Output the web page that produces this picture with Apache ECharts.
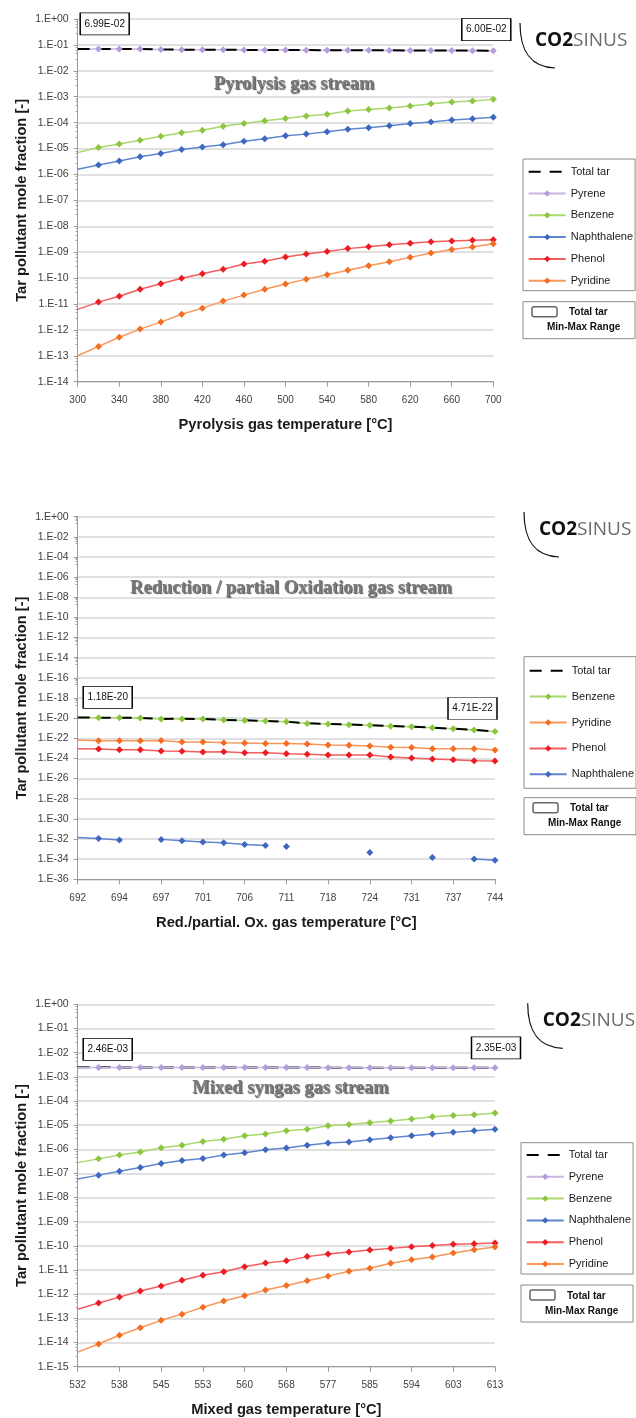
<!DOCTYPE html>
<html>
<head>
<meta charset="utf-8">
<script src="https://cdn.jsdelivr.net/npm/echarts@6/dist/echarts.min.js"></script>
<style>
    html, body { margin: 0; padding: 0; background: #fff; }
    #chart { width: 636px; height: 1418px; }
</style>
</head>
<body>
<div id="chart"></div>
<script>
// ---- Pyrolysis gas stream ----
var pyroTemp = ['300', '320', '340', '360', '380', '400', '420', '440', '460', '480', '500',
    '520', '540', '560', '580', '600', '620', '640', '660', '680', '700'];
var pyroTotal = [6.99e-2, 6.98e-2, 6.97e-2, 6.95e-2, 6.62e-2, 6.56e-2, 6.52e-2, 6.47e-2, 6.42e-2, 6.38e-2, 6.34e-2,
    6.30e-2, 6.27e-2, 6.23e-2, 6.20e-2, 6.17e-2, 6.13e-2, 6.10e-2, 6.07e-2, 6.03e-2, 6.00e-2];
var pyroPyrene = [6.98e-2, 6.97e-2, 6.96e-2, 6.94e-2, 6.60e-2, 6.54e-2, 6.50e-2, 6.45e-2, 6.40e-2, 6.35e-2, 6.31e-2,
    6.27e-2, 6.24e-2, 6.20e-2, 6.16e-2, 6.13e-2, 6.09e-2, 6.06e-2, 6.02e-2, 5.98e-2, 5.95e-2];
var pyroBenzene = [7.0e-6, 1.1e-5, 1.5e-5, 2.1e-5, 3.0e-5, 4.1e-5, 5.1e-5, 7.3e-5, 9.3e-5, 1.17e-4, 1.45e-4,
    1.8e-4, 2.1e-4, 2.8e-4, 3.2e-4, 3.7e-4, 4.4e-4, 5.3e-4, 6.3e-4, 6.8e-4, 7.9e-4];
var pyroNaphthalene = [1.6e-6, 2.3e-6, 3.3e-6, 4.8e-6, 6.4e-6, 9.2e-6, 1.15e-5, 1.4e-5, 1.9e-5, 2.4e-5, 3.1e-5,
    3.6e-5, 4.4e-5, 5.5e-5, 6.3e-5, 7.6e-5, 9.3e-5, 1.05e-4, 1.26e-4, 1.4e-4, 1.63e-4];
var pyroPhenol = [6.2e-12, 1.18e-11, 2.0e-11, 3.7e-11, 6.0e-11, 9.8e-11, 1.48e-10, 2.2e-10, 3.5e-10, 4.5e-10, 6.5e-10,
    8.5e-10, 1.07e-9, 1.37e-9, 1.63e-9, 1.94e-9, 2.2e-9, 2.5e-9, 2.7e-9, 2.9e-9, 3.0e-9];
var pyroPyridine = [1.0e-13, 2.3e-13, 5.2e-13, 1.07e-12, 2.0e-12, 4.0e-12, 6.9e-12, 1.29e-11, 2.2e-11, 3.7e-11, 5.9e-11,
    9.1e-11, 1.35e-10, 2.0e-10, 3.0e-10, 4.3e-10, 6.3e-10, 9.3e-10, 1.26e-9, 1.58e-9, 2.1e-9];

// ---- Reduction / partial oxidation gas stream ----
var redTemp = ['692', '693', '694', '695', '697', '699', '701', '703', '706', '708', '711',
    '714', '718', '721', '724', '727', '731', '734', '737', '740', '744'];
// tick values of this y axis are given by hand: the scale rounds a fixed 1e-36 to 0
var redTicks = [1e-36, 1e-34, 1e-32, 1e-30, 1e-28, 1e-26, 1e-24, 1e-22, 1e-20, 1e-18,
    1e-16, 1e-14, 1e-12, 1e-10, 1e-8, 1e-6, 1e-4, 1e-2, 1];
var redTotal = [1.18e-20, 1.12e-20, 1.10e-20, 1.04e-20, 8.3e-21, 8.6e-21, 8.2e-21, 6.7e-21, 6.1e-21, 5.2e-21, 4.5e-21,
    3.1e-21, 2.7e-21, 2.3e-21, 2.05e-21, 1.65e-21, 1.42e-21, 1.13e-21, 8.9e-22, 7.0e-22, 4.71e-22];
var redBenzene = [1.15e-20, 1.10e-20, 1.08e-20, 1.02e-20, 8.1e-21, 8.4e-21, 8.0e-21, 6.5e-21, 6.0e-21, 5.1e-21, 4.4e-21,
    3.0e-21, 2.6e-21, 2.2e-21, 2.0e-21, 1.6e-21, 1.38e-21, 1.1e-21, 8.7e-22, 6.8e-22, 4.6e-22];
var redPyridine = [6.7e-23, 5.8e-23, 5.7e-23, 5.6e-23, 5.9e-23, 4.3e-23, 4.2e-23, 3.6e-23, 3.5e-23, 3.1e-23, 3.0e-23,
    2.7e-23, 2.1e-23, 2.0e-23, 1.7e-23, 1.3e-23, 1.25e-23, 9.2e-24, 9.0e-24, 8.9e-24, 6.8e-24];
var redPhenol = [9.1e-24, 8.5e-24, 7.3e-24, 7.2e-24, 5.4e-24, 5.3e-24, 4.3e-24, 4.6e-24, 3.7e-24, 3.6e-24, 2.9e-24,
    2.6e-24, 2.2e-24, 2.2e-24, 2.15e-24, 1.38e-24, 1.1e-24, 8.7e-25, 7.4e-25, 5.9e-25, 5.5e-25];
var redNaphthalene = [1.45e-32, 1.15e-32, 7.8e-33, null, 9.2e-33, 6.7e-33, 5.0e-33, 4.2e-33, 2.9e-33, 2.3e-33, null,
    null, null, null, null, null, null, null, null, 1.02e-34, 7.6e-35];
// single naphthalene points not joined to their neighbours
var redNaphthaleneSingle = [null, null, null, null, null, null, null, null, null, null, 1.85e-33,
    null, null, null, 4.7e-34, null, null, 1.5e-34, null, null, null];

// ---- Mixed syngas gas stream ----
var mixTemp = ['532', '535', '538', '541', '545', '549', '553', '556', '560', '564', '568',
    '572', '577', '581', '585', '589', '594', '598', '603', '608', '613'];
var mixTotal = [2.46e-3, 2.46e-3, 2.45e-3, 2.45e-3, 2.44e-3, 2.44e-3, 2.43e-3, 2.42e-3, 2.42e-3, 2.41e-3, 2.40e-3,
    2.40e-3, 2.39e-3, 2.39e-3, 2.38e-3, 2.38e-3, 2.37e-3, 2.37e-3, 2.36e-3, 2.36e-3, 2.35e-3];
var mixPyrene = [2.44e-3, 2.44e-3, 2.43e-3, 2.43e-3, 2.42e-3, 2.42e-3, 2.41e-3, 2.41e-3, 2.42e-3, 2.41e-3, 2.40e-3,
    2.40e-3, 2.39e-3, 2.39e-3, 2.38e-3, 2.38e-3, 2.37e-3, 2.37e-3, 2.36e-3, 2.36e-3, 2.35e-3];
var mixBenzene = [2.8e-7, 4.0e-7, 5.8e-7, 7.7e-7, 1.16e-6, 1.45e-6, 2.1e-6, 2.6e-6, 3.6e-6, 4.3e-6, 5.8e-6,
    6.7e-6, 9.5e-6, 1.07e-5, 1.26e-5, 1.48e-5, 1.78e-5, 2.2e-5, 2.5e-5, 2.7e-5, 3.2e-5];
var mixNaphthalene = [5.9e-8, 8.5e-8, 1.22e-7, 1.77e-7, 2.6e-7, 3.4e-7, 4.1e-7, 5.8e-7, 7.2e-7, 9.6e-7, 1.12e-6,
    1.45e-6, 1.82e-6, 2.0e-6, 2.5e-6, 3.0e-6, 3.6e-6, 4.3e-6, 5.0e-6, 5.9e-6, 6.7e-6];
var mixPhenol = [2.4e-13, 4.3e-13, 7.6e-13, 1.35e-12, 2.2e-12, 3.8e-12, 6.1e-12, 8.5e-12, 1.37e-11, 1.96e-11, 2.4e-11,
    3.6e-11, 4.6e-11, 5.6e-11, 6.8e-11, 7.9e-11, 9.3e-11, 1.05e-10, 1.17e-10, 1.23e-10, 1.32e-10];
var mixPyridine = [4.0e-15, 8.7e-15, 2.0e-14, 4.1e-14, 8.3e-14, 1.5e-13, 2.9e-13, 5.2e-13, 8.7e-13, 1.48e-12, 2.3e-12,
    3.6e-12, 5.6e-12, 8.9e-12, 1.18e-11, 1.9e-11, 2.7e-11, 3.5e-11, 5.1e-11, 6.9e-11, 9.0e-11];

var colors = {
    'Pyrene': ['#c7b6e3', '#b39ddb'],
    'Benzene': ['#a9d86c', '#8cc63f'],
    'Naphthalene': ['#5f86cf', '#4067c0'],
    'Phenol': ['#f45d5d', '#ea1c24'],
    'Pyridine': ['#f8975a', '#f36e22']
};

var SANS = '"Liberation Sans", Arial, sans-serif';

function sci(v) {
    var p = v.toExponential(2).split('e');
    var e = parseInt(p[1], 10);
    return p[0] + 'E' + (e < 0 ? '-' : '+') + (Math.abs(e) < 10 ? '0' : '') + Math.abs(e);
}

function tickLabel(v) {
    if (!(v > 0)) return '';
    var l = Math.log(v) / Math.LN10;
    var e = Math.round(l);
    if (Math.abs(l - e) > 1e-6) return '';
    return '1.E' + (e < 0 ? '-' : '+') + (Math.abs(e) < 10 ? '0' : '') + Math.abs(e);
}

function comp(name, data, idx) {
    return {
        type: 'line', name: name, xAxisIndex: idx, yAxisIndex: idx,
        data: data.map(function (v, i) { return (i === 0 && v != null) ? { value: v, symbol: 'none' } : v; }),
        symbol: 'diamond', symbolSize: 7,
        lineStyle: { color: colors[name][0], width: 1.5 },
        itemStyle: { color: colors[name][1] },
        animation: false
    };
}

function total(data, cats, idx, first, last) {
    return {
        type: 'line', name: 'Total tar', xAxisIndex: idx, yAxisIndex: idx, data: data,
        symbol: 'none', z: 3,
        lineStyle: { color: '#000', width: 2, type: [12, 9] },
        itemStyle: { color: 'rgba(0,0,0,0)' },
        animation: false,
        markPoint: {
            symbol: 'rect', symbolSize: [49, 22],
            itemStyle: { color: '#fff', borderColor: '#000', borderWidth: 1 },
            label: { show: true, position: 'inside', color: '#111', fontSize: 10, fontFamily: SANS,
                formatter: function (p) { return sci(p.value); } },
            data: [
                { coord: [cats[0], data[0]], value: data[0], symbolOffset: first },
                { coord: [cats[cats.length - 1], data[data.length - 1]], value: data[data.length - 1], symbolOffset: last }
            ]
        }
    };
}

function xAxis(idx, cats, name) {
    return {
        type: 'category', gridIndex: idx, data: cats, boundaryGap: false,
        name: name, nameLocation: 'middle', nameGap: 36,
        nameTextStyle: { fontFamily: SANS, fontWeight: 'bold', fontSize: 14.7, color: '#1a1a1a' },
        axisLine: { lineStyle: { color: '#9a9a9a', width: 1 } },
        axisTick: { interval: 1, length: 5, lineStyle: { color: '#9a9a9a' } },
        axisLabel: { interval: 1, margin: 14, fontFamily: SANS, fontSize: 10, color: '#404040' },
        splitLine: { show: false }
    };
}

function yAxis(idx, minExp, step, ticks) {
    var ax = {
        type: 'log', logBase: 10, gridIndex: idx,
        min: Math.pow(10, minExp), max: 1, interval: step, splitNumber: -minExp / step,
        name: 'Tar pollutant mole fraction [-]', nameLocation: 'middle', nameGap: 48, nameMoveOverlap: false,
        nameTextStyle: { fontFamily: SANS, fontWeight: 'bold', fontSize: 14.7, color: '#1a1a1a' },
        axisLine: { show: true, lineStyle: { color: '#9a9a9a', width: 1 } },
        axisTick: { show: true, length: 4, lineStyle: { color: '#9a9a9a' } },
        minorTick: { show: true, splitNumber: 5, length: 2, lineStyle: { color: '#9a9a9a' } },
        axisLabel: { margin: 9, fontFamily: SANS, fontSize: 10.5, color: '#404040', formatter: tickLabel },
        splitLine: { show: true, lineStyle: { color: '#d6d6d6', width: 1.5 } }
    };
    if (ticks) {
        ax.axisTick.customValues = ticks;
        ax.axisLabel.customValues = ticks;
    }
    return ax;
}

function legend(left, top, gap, pad, names) {
    return {
        orient: 'vertical', left: left, top: top, data: names,
        itemWidth: 37, itemHeight: 8, itemGap: gap, padding: pad,
        borderColor: '#8a8a8a', borderWidth: 1,
        textStyle: { fontFamily: SANS, fontSize: 11, color: '#1a1a1a', lineHeight: 14 },
        selectedMode: false
    };
}

function streamTitle(x, y, text) {
    return {
        type: 'text', x: x, y: y, z: 5, silent: true,
        style: {
            text: text, textAlign: 'center', textVerticalAlign: 'middle', verticalAlign: 'middle',
            font: 'bold 18.5px "Liberation Serif", "Times New Roman", serif',
            fill: '#7a7a7a', textShadowColor: 'rgba(40,40,40,0.8)', textShadowBlur: 1,
            textShadowOffsetX: 1, textShadowOffsetY: 1
        }
    };
}

function logo(ax, ay) {
    return [{
        type: 'bezierCurve', silent: true,
        shape: { x1: ax, y1: ay, cpx1: ax, cpy1: ay + 28, cpx2: ax + 10, cpy2: ay + 44, x2: ax + 35, y2: ay + 45 },
        style: { stroke: '#111', lineWidth: 1.2, fill: null }
    }, {
        type: 'text', x: ax + 15, y: ay + 17.5, silent: true,
        style: {
            text: '{a|CO2}{b|SINUS}', textVerticalAlign: 'middle', verticalAlign: 'middle',
            rich: {
                a: { fontFamily: '"Open Sans", sans-serif', fontWeight: 'bold', fontSize: 19, fill: '#111', color: '#111' },
                b: { fontFamily: '"Open Sans", sans-serif', fontSize: 19, fill: '#6b6b6b', color: '#6b6b6b' }
            }
        }
    }];
}

function rangeBox(x, y) {
    return [{
        type: 'rect', silent: true, shape: { x: x, y: y, width: 112, height: 37 },
        style: { fill: '#fff', stroke: '#8a8a8a', lineWidth: 1 }
    }, {
        type: 'rect', silent: true, shape: { x: x + 9, y: y + 5, width: 25, height: 10, r: 2 },
        style: { fill: '#fff', stroke: '#666', lineWidth: 1.5 }
    }, {
        type: 'text', silent: true, x: x + 46, y: y + 11,
        style: { text: 'Total tar', font: 'bold 10px ' + SANS, fill: '#111', textVerticalAlign: 'middle', verticalAlign: 'middle' }
    }, {
        type: 'text', silent: true, x: x + 24, y: y + 26,
        style: { text: 'Min-Max Range', font: 'bold 10px ' + SANS, fill: '#111', textVerticalAlign: 'middle', verticalAlign: 'middle' }
    }];
}

var chart = echarts.init(document.getElementById('chart'), null, { renderer: 'canvas' });

var option = {
    backgroundColor: '#fff',
    animation: false,
    grid: [
        { left: 77.7, top: 19, width: 415.6, height: 362.7, outerBoundsMode: 'none' },
        { left: 77.7, top: 516.7, width: 417.3, height: 362.6, outerBoundsMode: 'none' },
        { left: 77.7, top: 1004.3, width: 417.3, height: 362.4, outerBoundsMode: 'none' }
    ],
    xAxis: [
        xAxis(0, pyroTemp, 'Pyrolysis gas temperature [°C]'),
        xAxis(1, redTemp, 'Red./partial. Ox. gas temperature [°C]'),
        xAxis(2, mixTemp, 'Mixed gas temperature [°C]')
    ],
    yAxis: [yAxis(0, -14, 1), yAxis(1, -36, 2, redTicks), yAxis(2, -15, 1)],
    legend: [
        legend(523, 159, 7.8, [5.7, 2, 3, 4.7], ['Total tar', 'Pyrene', 'Benzene', 'Naphthalene', 'Phenol', 'Pyridine']),
        legend(524, 656.7, 11.9, [7, 2, 7, 4.7], ['Total tar', 'Benzene', 'Pyridine', 'Phenol', 'Naphthalene']),
        legend(521, 1142.7, 7.8, [5.3, 2, 3, 4.7], ['Total tar', 'Pyrene', 'Benzene', 'Naphthalene', 'Phenol', 'Pyridine'])
    ],
    graphic: [].concat(
        [streamTitle(294, 84, 'Pyrolysis gas stream'),
         streamTitle(291, 588, 'Reduction / partial Oxidation gas stream'),
         streamTitle(290.5, 1088, 'Mixed syngas gas stream')],
        logo(520, 23), logo(524, 512), logo(527.7, 1003.3),
        rangeBox(523, 301.7), rangeBox(524, 797.7), rangeBox(521, 1285)
    ),
    series: [
        comp('Pyrene', pyroPyrene, 0),
        comp('Benzene', pyroBenzene, 0),
        comp('Naphthalene', pyroNaphthalene, 0),
        comp('Phenol', pyroPhenol, 0),
        comp('Pyridine', pyroPyridine, 0),
        total(pyroTotal, pyroTemp, 0, [27, -25], [-7, -21]),

        comp('Benzene', redBenzene, 1),
        comp('Pyridine', redPyridine, 1),
        comp('Phenol', redPhenol, 1),
        comp('Naphthalene', redNaphthalene, 1),
        comp('Naphthalene', redNaphthaleneSingle, 1),
        total(redTotal, redTemp, 1, [30, -20], [-22.5, -23]),

        total(mixTotal, mixTemp, 2, [30, -18], [1, -20]),
        comp('Pyrene', mixPyrene, 2),
        comp('Benzene', mixBenzene, 2),
        comp('Naphthalene', mixNaphthalene, 2),
        comp('Phenol', mixPhenol, 2),
        comp('Pyridine', mixPyridine, 2)
    ]
};
option.series[12].z = 1;

chart.setOption(option);
</script>
</body>
</html>
